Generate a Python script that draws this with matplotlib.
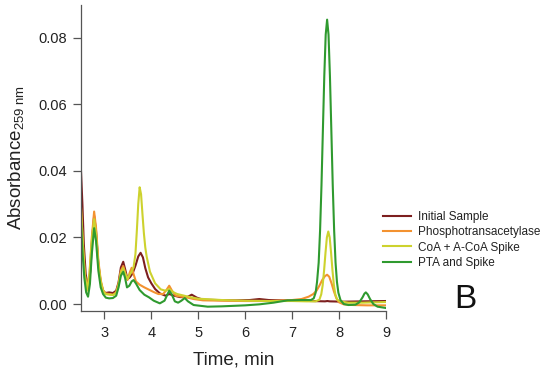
import matplotlib
matplotlib.use("Agg")
import matplotlib.pyplot as plt

plt.rcParams['font.family'] = ['Liberation Sans', 'DejaVu Sans']
plt.rcParams['mathtext.fontset'] = 'custom'
plt.rcParams['mathtext.rm'] = 'Liberation Sans'
plt.rcParams['mathtext.it'] = 'Liberation Sans'

series_names = ["Initial Sample", "Phosphotransacetylase", "CoA + A-CoA Spike", "PTA and Spike"]
series_colors = ["#7d1f1f", "#f39230", "#cdd22e", "#2f9a2f"]

t_initial = [2.50, 2.53, 2.56, 2.60, 2.65, 2.70, 2.74, 2.78, 2.82, 2.87, 2.92, 2.97, 3.02, 3.10, 3.18,
             3.25, 3.30, 3.35, 3.40, 3.44, 3.49, 3.54, 3.60, 3.66, 3.72, 3.77, 3.82, 3.87, 3.93, 4.00,
             4.08, 4.18, 4.30, 4.38, 4.46, 4.60, 4.75, 4.86, 4.97, 5.10, 5.40, 5.80, 6.10, 6.30, 6.50,
             6.80, 7.10, 7.40, 7.70, 7.75, 7.80, 8.10, 8.50, 9.00]
v_initial = [0.0400, 0.0300, 0.0180, 0.0090, 0.0048, 0.0100, 0.0200, 0.0265, 0.0220, 0.0120, 0.0065,
             0.0040, 0.0033, 0.0035, 0.0033, 0.0040, 0.0065, 0.0110, 0.0127, 0.0105, 0.0075, 0.0080,
             0.0092, 0.0115, 0.0143, 0.0154, 0.0140, 0.0108, 0.0080, 0.0062, 0.0045, 0.0032, 0.0025,
             0.0030, 0.0026, 0.0021, 0.0020, 0.0028, 0.0019, 0.0013, 0.0012, 0.0011, 0.0012, 0.0015,
             0.0012, 0.0011, 0.0011, 0.0009, 0.0008, 0.0009, 0.0008, 0.0007, 0.0008, 0.0009]

t_pta = [2.50, 2.54, 2.58, 2.63, 2.68, 2.73, 2.78, 2.82, 2.87, 2.92, 2.97, 3.02, 3.10, 3.18, 3.25, 3.30,
         3.35, 3.40, 3.44, 3.49, 3.54, 3.58, 3.62, 3.67, 3.75, 3.85, 3.95, 4.05, 4.15, 4.25, 4.32, 4.38,
         4.44, 4.52, 4.65, 4.75, 4.90, 5.10, 5.50, 6.00, 6.50, 7.00, 7.20, 7.35, 7.45, 7.52, 7.58, 7.64,
         7.70, 7.745, 7.79, 7.84, 7.89, 7.94, 8.00, 8.10, 8.30, 8.60, 9.00]
v_pta = [0.0290, 0.0180, 0.0090, 0.0042, 0.0090, 0.0200, 0.0278, 0.0230, 0.0130, 0.0072, 0.0042, 0.0032,
         0.0030, 0.0028, 0.0035, 0.0060, 0.0100, 0.0114, 0.0095, 0.0072, 0.0095, 0.0109, 0.0090, 0.0068,
         0.0058, 0.0050, 0.0043, 0.0036, 0.0030, 0.0030, 0.0042, 0.0055, 0.0040, 0.0025, 0.0022, 0.0020,
         0.0015, 0.0011, 0.0010, 0.0009, 0.0009, 0.0012, 0.0015, 0.0022, 0.0030, 0.0040, 0.0055, 0.0072,
         0.0084, 0.0088, 0.0082, 0.0062, 0.0038, 0.0018, 0.0005, -0.0001, -0.0003, -0.0004, -0.0004]

t_coa = [2.50, 2.54, 2.58, 2.63, 2.68, 2.73, 2.78, 2.82, 2.87, 2.92, 2.97, 3.02, 3.10, 3.18, 3.25, 3.30,
         3.35, 3.40, 3.44, 3.49, 3.54, 3.58, 3.62, 3.66, 3.69, 3.72, 3.75, 3.78, 3.81, 3.84, 3.87, 3.90,
         3.97, 4.08, 4.20, 4.30, 4.38, 4.46, 4.55, 4.70, 4.85, 5.00, 5.50, 6.00, 6.50, 7.00, 7.30, 7.50,
         7.58, 7.62, 7.65, 7.68, 7.71, 7.74, 7.77, 7.80, 7.83, 7.86, 7.89, 7.92, 7.96, 8.02, 8.20, 8.50,
         9.00]
v_coa = [0.0290, 0.0180, 0.0090, 0.0040, 0.0085, 0.0190, 0.0255, 0.0210, 0.0120, 0.0068, 0.0040, 0.0030,
         0.0028, 0.0027, 0.0033, 0.0058, 0.0095, 0.0108, 0.0092, 0.0075, 0.0088, 0.0098, 0.0110, 0.0150,
         0.0220, 0.0300, 0.0351, 0.0330, 0.0270, 0.0213, 0.0170, 0.0142, 0.0097, 0.0062, 0.0044, 0.0040,
         0.0045, 0.0036, 0.0030, 0.0025, 0.0020, 0.0016, 0.0012, 0.0010, 0.0009, 0.0009, 0.0008, 0.0008,
         0.0013, 0.0029, 0.0056, 0.0100, 0.0153, 0.0200, 0.0218, 0.0200, 0.0153, 0.0100, 0.0056, 0.0029,
         0.0013, 0.0008, 0.0004, 0.0004, 0.0006]

t_spike = [2.50, 2.53, 2.57, 2.61, 2.65, 2.69, 2.73, 2.78, 2.82, 2.87, 2.92, 2.97, 3.03, 3.10, 3.18, 3.25,
           3.30, 3.35, 3.40, 3.44, 3.48, 3.53, 3.58, 3.62, 3.67, 3.75, 3.85, 3.95, 4.05, 4.18, 4.28, 4.33,
           4.38, 4.43, 4.50, 4.57, 4.64, 4.71, 4.78, 4.90, 5.20, 5.50, 6.00, 6.30, 6.60, 6.90, 7.20, 7.40,
           7.46, 7.50, 7.53, 7.565, 7.595, 7.625, 7.655, 7.685, 7.715, 7.745, 7.775, 7.805, 7.835, 7.865,
           7.895, 7.925, 7.955, 7.985, 8.03, 8.10, 8.20, 8.35, 8.43, 8.50, 8.54, 8.57, 8.61, 8.66, 8.73,
           8.82, 9.00]
v_spike = [0.0245, 0.0160, 0.0080, 0.0035, 0.0022, 0.0060, 0.0150, 0.0228, 0.0190, 0.0100, 0.0050, 0.0030,
           0.0019, 0.0017, 0.0018, 0.0025, 0.0050, 0.0085, 0.0097, 0.0078, 0.0050, 0.0055, 0.0068, 0.0072,
           0.0062, 0.0042, 0.0028, 0.0020, 0.0010, 0.0002, 0.0010, 0.0025, 0.0040, 0.0030, 0.0008, 0.0004,
           0.0010, 0.0018, 0.0008, -0.0003, -0.0008, -0.0007, -0.0004, -0.0001, 0.0004, 0.0011, 0.0012,
           0.0012, 0.0017, 0.0034, 0.0066, 0.0124, 0.0221, 0.0357, 0.0523, 0.0686, 0.0810, 0.0855, 0.0810,
           0.0686, 0.0523, 0.0357, 0.0221, 0.0124, 0.0066, 0.0034, 0.0012, 0.0000, -0.0003, -0.0002, 0.0005,
           0.0020, 0.0031, 0.0035, 0.0029, 0.0015, 0.0000, -0.0008, -0.0012]

x_ticks = [3, 4, 5, 6, 7, 8, 9]
y_ticks = [0.00, 0.02, 0.04, 0.06, 0.08]
y_tick_labels = ["0.00", "0.02", "0.04", "0.06", "0.08"]

fig = plt.figure(figsize=(5.5, 3.75), dpi=100)
ax = fig.add_axes([81 / 550, 1 - 311 / 375, 305 / 550, 306 / 375])

all_t = [t_initial, t_pta, t_coa, t_spike]
all_v = [v_initial, v_pta, v_coa, v_spike]
for t, v, c, name in zip(all_t, all_v, series_colors, series_names):
    ax.plot(t, v, color=c, lw=1.5, label=name, solid_joinstyle='round')

ax.set_xlim(2.5, 9.0)
ax.set_ylim(-0.0021, 0.0899)
ax.set_xticks(x_ticks)
ax.set_yticks(y_ticks)
ax.set_yticklabels(y_tick_labels)

for s in ['top', 'right']:
    ax.spines[s].set_visible(False)
for s in ['left', 'bottom']:
    ax.spines[s].set_color('#555555')
    ax.spines[s].set_linewidth(0.9)
ax.tick_params(axis='both', direction='out', length=6, width=0.9, color='#555555',
               labelsize=10.5, labelcolor='#222222', pad=4)
ax.tick_params(axis='x', pad=5)

ax.set_xlabel("Time, min", fontsize=13.5, color='#222222', labelpad=8)
ax.set_ylabel(r"Absorbance$_{\mathregular{259\ nm}}$", fontsize=13.5, color='#222222', labelpad=9)

leg = ax.legend(loc='upper left', bbox_to_anchor=(383 / 550, 1 - 211 / 375),
                bbox_transform=fig.transFigure, frameon=False, fontsize=8.5,
                handlelength=2.4, handletextpad=0.6, labelspacing=0.28, borderpad=0,
                borderaxespad=0)
for txt in leg.get_texts():
    txt.set_color('#222222')

fig.text(465 / 550, 1 - 300 / 375, "B", fontsize=24, ha='center', va='center', color='#111111')

fig.savefig("out.png", dpi=100)
